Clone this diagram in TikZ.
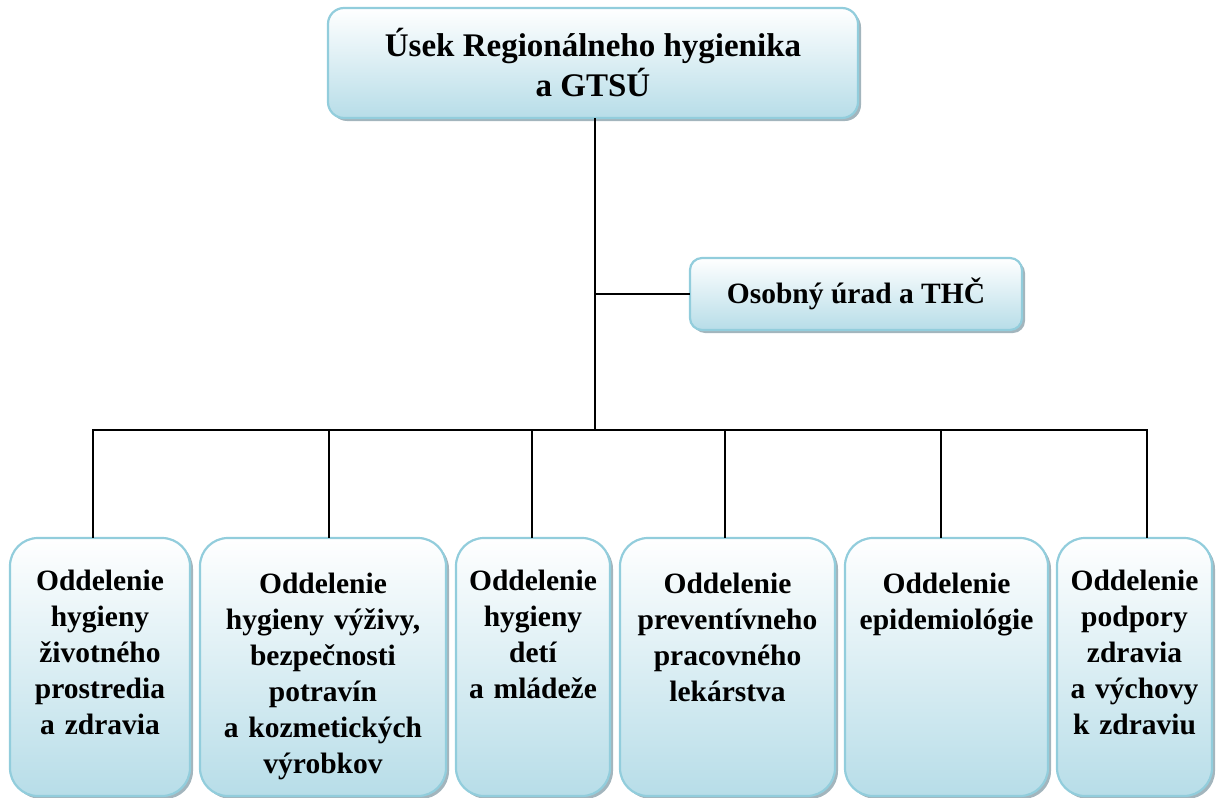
\documentclass[tikz,border=0pt]{standalone}
\usepackage{fontspec}
\setmainfont{Liberation Serif}
\usetikzlibrary{positioning,shadows}

\definecolor{boxline}{RGB}{146,205,220}
\definecolor{boxfill}{RGB}{183,221,232}
\definecolor{boxshadow}{RGB}{140,163,172}

\begin{document}
\begin{tikzpicture}[x=1pt,y=-1pt,
    box/.style={draw=boxline, line width=2.2pt, top color=white, bottom color=boxfill,
      drop shadow={shadow xshift=3pt, shadow yshift=-3pt, fill=boxshadow, opacity=0.8},
      inner sep=0pt},
    dtext/.style={inner sep=0pt, align=center, font=\bfseries\fontsize{29.5}{36}\selectfont},
    link/.style={line width=2.5pt, line cap=rect}]
  \useasboundingbox (0,0) rectangle (1216,798);

  % head and staff office
  \node[box, rounded corners=16pt, minimum width=530pt, minimum height=110pt, align=center,
    font=\bfseries\fontsize{33}{40}\selectfont] (top) at (593,63) {Úsek Regionálneho hygienika\\a GTSÚ};
  \node[box, rounded corners=12pt, minimum width=332pt, minimum height=72pt,
    font=\bfseries\fontsize{29.5}{36}\selectfont] (osob) at (856,294) {Osobný úrad a THČ};

  % departments
  \node[box, rounded corners=28pt, minimum width=180pt, minimum height=258pt] (d1) at (100,667) {};
  \node[box, rounded corners=28pt, minimum width=246pt, minimum height=258pt] (d2) at (323,667) {};
  \node[box, rounded corners=28pt, minimum width=154pt, minimum height=258pt] (d3) at (533,667) {};
  \node[box, rounded corners=28pt, minimum width=215pt, minimum height=258pt] (d4) at (727.5,667) {};
  \node[box, rounded corners=28pt, minimum width=203pt, minimum height=258pt] (d5) at (946.5,667) {};
  \node[box, rounded corners=28pt, minimum width=155pt, minimum height=258pt] (d6) at (1134.5,667) {};

  \node[dtext, text width=170pt, below=33pt of d1.north] (t1) {Oddelenie\\hygieny\\životného\\prostredia\\a zdravia};
  \node[dtext, text width=236pt, below=36pt of d2.north] (t2) {Oddelenie\\hygieny výživy,\\bezpečnosti\\potravín\\a kozmetických\\výrobkov};
  \node[dtext, text width=150pt, below=33pt of d3.north] (t3) {Oddelenie\\hygieny\\detí\\a mládeže};
  \node[dtext, text width=205pt, below=36pt of d4.north] (t4) {Oddelenie\\preventívneho\\pracovného\\lekárstva};
  \node[dtext, text width=195pt, below=36pt of d5.north] (t5) {Oddelenie\\epidemiológie};
  \node[dtext, text width=150pt, below=33pt of d6.north] (t6) {Oddelenie\\podpory\\zdravia\\a výchovy\\k zdraviu};

  % connectors
  \coordinate (bus) at (595,430);
  \coordinate (b1) at (93,430);
  \coordinate (b2) at (329,430);
  \coordinate (b3) at (532,430);
  \coordinate (b4) at (725,430);
  \coordinate (b5) at (941,430);
  \coordinate (b6) at (1147,430);

  \draw[link] (bus |- top.south) -- (bus);
  \draw[link] (bus |- osob.west) -- (osob.west);
  \draw[link] (b1) -- (b6);
  \foreach \i in {1,...,6}
    \draw[link] (b\i) -- (b\i |- d\i.north);
\end{tikzpicture}
\end{document}
